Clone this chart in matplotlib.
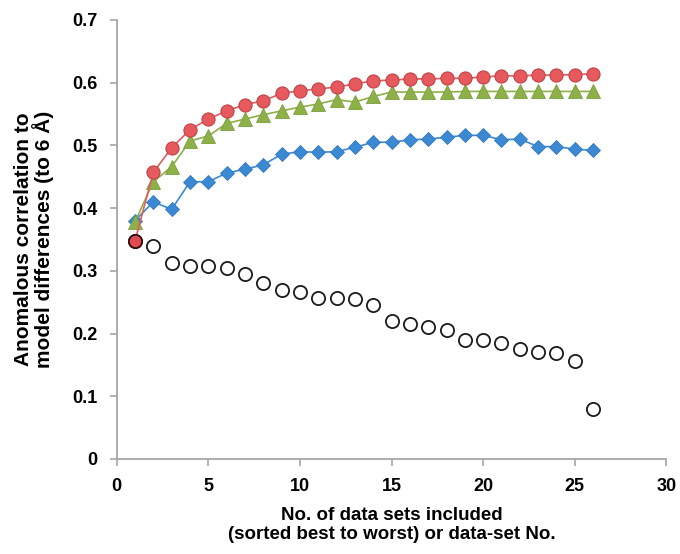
import matplotlib
matplotlib.use('Agg')
import matplotlib.pyplot as plt

# data
n = list(range(1, 27))
red_vals = [0.348, 0.457, 0.496, 0.525, 0.542, 0.555, 0.565, 0.571, 0.583, 0.587,
            0.590, 0.593, 0.598, 0.603, 0.604, 0.606, 0.606, 0.607, 0.607, 0.609,
            0.611, 0.611, 0.612, 0.612, 0.613, 0.614]
green_vals = [0.378, 0.442, 0.466, 0.507, 0.515, 0.535, 0.542, 0.549, 0.555, 0.561,
              0.566, 0.573, 0.569, 0.578, 0.585, 0.585, 0.585, 0.585, 0.586, 0.586,
              0.586, 0.586, 0.586, 0.586, 0.586, 0.586]
blue_vals = [0.380, 0.410, 0.398, 0.442, 0.442, 0.456, 0.462, 0.469, 0.486, 0.490,
             0.489, 0.490, 0.497, 0.505, 0.505, 0.509, 0.510, 0.513, 0.516, 0.516,
             0.509, 0.510, 0.498, 0.498, 0.494, 0.492]
open_vals = [0.347, 0.339, 0.312, 0.308, 0.308, 0.305, 0.295, 0.280, 0.270, 0.267,
             0.256, 0.256, 0.255, 0.245, 0.220, 0.215, 0.210, 0.206, 0.190, 0.189,
             0.185, 0.175, 0.170, 0.169, 0.157, 0.080]

yticks = [0, 0.1, 0.2, 0.3, 0.4, 0.5, 0.6, 0.7]
ytick_labels = ['0', '0.1', '0.2', '0.3', '0.4', '0.5', '0.6', '0.7']
xticks = [0, 5, 10, 15, 20, 25, 30]

fig = plt.figure(figsize=(6.8, 5.54), dpi=100)
ax = fig.add_axes([0.1716, 0.1715, 0.8084, 0.7925])

ax.plot(n, open_vals, 'o', color='white', markeredgecolor='#1a1a1a',
        markeredgewidth=1.3, markersize=9.5, zorder=2)
ax.plot(n, blue_vals, '-D', color='#3C89D3', markeredgecolor='#3178BF',
        markeredgewidth=0.6, markersize=7.5, linewidth=1.2, zorder=3)
ax.plot(n, green_vals, '-^', color='#8DB048', markeredgecolor='#7C9E3C',
        markeredgewidth=0.6, markersize=10, linewidth=1.2, zorder=4)
ax.plot(n, red_vals, '-o', color='#E65A5E', markeredgecolor='#B83C40',
        markeredgewidth=0.7, markersize=9.5, linewidth=1.2, zorder=5)
# the first red point sits on top with a darker outline
ax.plot(n[0], red_vals[0], 'o', color='#E04A50', markeredgecolor='#2a0a0a',
        markeredgewidth=1.2, markersize=9.5, zorder=6)

ax.set_xlim(0, 30)
ax.set_ylim(0, 0.7)
ax.set_xticks(xticks)
ax.set_yticks(yticks)
ax.set_yticklabels(ytick_labels)

for s in ['top', 'right']:
    ax.spines[s].set_visible(False)
for s in ['left', 'bottom']:
    ax.spines[s].set_color('#A6A6A6')
    ax.spines[s].set_linewidth(1.3)
ax.tick_params(axis='both', direction='out', length=5, width=1.2, color='#A6A6A6',
               labelsize=13, pad=9)
for lab in ax.get_xticklabels() + ax.get_yticklabels():
    lab.set_fontweight('bold')
    lab.set_family(['Liberation Sans', 'DejaVu Sans'])

ax.set_ylabel('Anomalous correlation to\nmodel differences (to 6 Å)', fontsize=15,
              fontweight='bold', family=['Liberation Sans', 'DejaVu Sans'],
              linespacing=0.95, labelpad=13)
ax.set_xlabel('No. of data sets included\n(sorted best to worst) or data-set No.',
              fontsize=13.5, fontweight='bold',
              family=['Liberation Sans Narrow', 'Liberation Sans', 'DejaVu Sans'],
              linespacing=1.2, labelpad=8)

fig.savefig('out.png', dpi=100)
